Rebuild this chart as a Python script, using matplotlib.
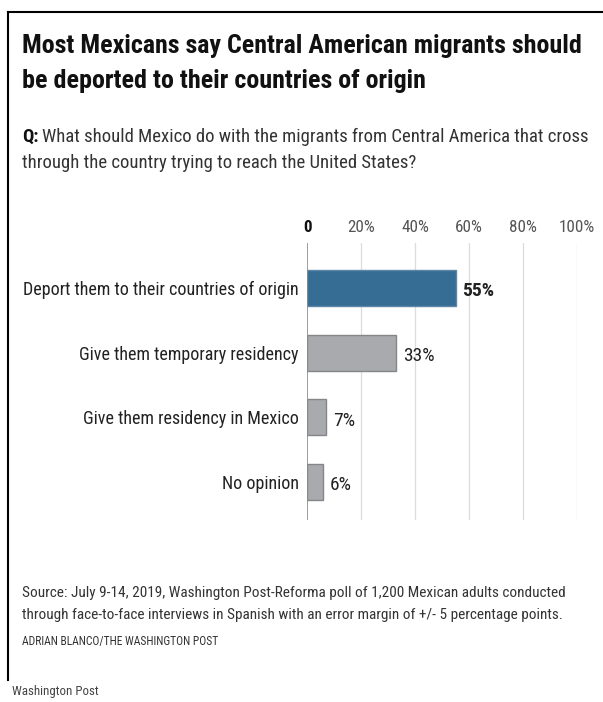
import matplotlib
matplotlib.use("Agg")
import matplotlib.pyplot as plt
from matplotlib.lines import Line2D
from matplotlib import font_manager

names = {f.name for f in font_manager.fontManager.ttflist}
fam = [n for n in ["Roboto Condensed", "Liberation Sans Narrow", "Roboto", "DejaVu Sans"] if n in names]
plt.rcParams['font.family'] = fam

categories = ["Deport them to their countries of origin", "Give them temporary residency",
              "Give them residency in Mexico", "No opinion"]
values = [55, 33, 7, 6]
value_labels = ["55%", "33%", "7%", "6%"]
xticks = [0, 20, 40, 60, 80, 100]
xtick_labels = ["0", "20%", "40%", "60%", "80%", "100%"]

W, H = 603, 702
fig = plt.figure(figsize=(W/100, H/100), dpi=100)
fig.patch.set_facecolor("white")

def fx(px): return px / W
def fy(py): return 1 - py / H

# axes: x 307..577 px, y 243..520 px
ax = fig.add_axes([fx(307), fy(520), fx(577) - fx(307), fy(243) - fy(520)])
ypos = list(range(len(categories)))
colors = ["#356d94"] + ["#a9aaae"] * 3
edges = ["#5d87a6"] + ["#85868a"] * 3
ax.barh(ypos, values, height=0.56, color=colors, edgecolor=edges, linewidth=1.0, zorder=3)
ax.set_xlim(0, 100)
ax.set_ylim(len(categories) - 1 + 0.59, -0.70)
for x in xticks[1:]:
    ax.axvline(x, color="#dcdcdc", lw=0.9, zorder=1)
ax.axvline(0, color="#8c8c8c", lw=1.2, zorder=4)
for s in ax.spines.values():
    s.set_visible(False)
ax.set_yticks(ypos)
ax.set_yticklabels(categories, fontsize=13, color="#222222")
ax.tick_params(axis="y", length=0, pad=6)
ax.xaxis.tick_top()
ax.set_xticks(xticks)
ax.set_xticklabels(xtick_labels, fontsize=12.3, color="#555555")
ax.get_xticklabels()[0].set_fontweight("bold")
ax.get_xticklabels()[0].set_color("#111111")
ax.tick_params(axis="x", length=0, pad=6)
for i, (v, lab) in enumerate(zip(values, value_labels)):
    ax.text(v + 2.5, i + 0.05, lab, va="center", ha="left", fontsize=14,
            fontweight="bold" if i == 0 else "normal", color="#222222")

# titles
fig.text(fx(22), fy(46), "Most Mexicans say Central American migrants should",
         fontsize=18.7, fontweight="bold", va="center", ha="left", color="#111111")
fig.text(fx(22), fy(81), "be deported to their countries of origin",
         fontsize=18.7, fontweight="bold", va="center", ha="left", color="#111111")
t = fig.text(fx(22), fy(137), "Q:", fontsize=13.5, fontweight="bold", va="center", ha="left", color="#111111")
fig.canvas.draw()
bb = t.get_window_extent()
fig.text(bb.x1 / W + fx(4), fy(137), "What should Mexico do with the migrants from Central America that cross",
         fontsize=13.5, va="center", ha="left", color="#333333")
fig.text(fx(22), fy(163), "through the country trying to reach the United States?",
         fontsize=13.5, va="center", ha="left", color="#333333")

fig.text(fx(22), fy(593), "Source: July 9-14, 2019, Washington Post-Reforma poll of 1,200 Mexican adults conducted",
         fontsize=11, va="center", ha="left", color="#333333")
fig.text(fx(22), fy(615), "through face-to-face interviews in Spanish with an error margin of +/- 5 percentage points.",
         fontsize=11, va="center", ha="left", color="#333333")
fig.text(fx(22), fy(641), "ADRIAN BLANCO/THE WASHINGTON POST",
         fontsize=8.3, va="center", ha="left", color="#333333")
fig.text(fx(12), fy(692), "Washington Post", fontsize=9.3, va="center", ha="left", color="#444444")

# border
fig.add_artist(Line2D([fx(8), 1], [fy(12), fy(12)], color="black", lw=1.5))
fig.add_artist(Line2D([fx(8), fx(8)], [fy(12), fy(680)], color="black", lw=1.5))

fig.savefig("out.png", dpi=100)
